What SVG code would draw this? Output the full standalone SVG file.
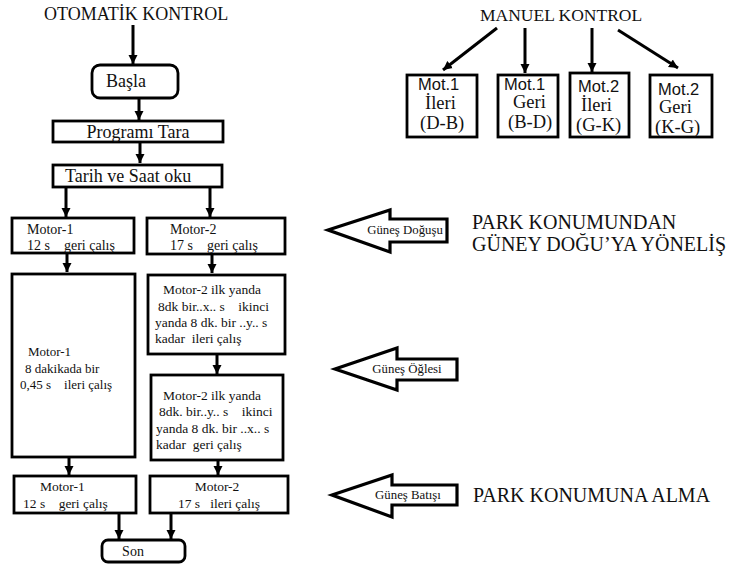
<svg xmlns="http://www.w3.org/2000/svg" width="735" height="568" viewBox="0 0 735 568">
<style>
.box{fill:#fff;stroke:#000;stroke-width:2.8}
.big{fill:#fff;stroke:#000;stroke-width:3.2;stroke-linejoin:miter}
.c{stroke:#000;stroke-width:3;fill:none}
text{white-space:pre}
.s{font-family:'Liberation Serif',serif;fill:#111}
.a{font-family:'Liberation Sans',sans-serif;fill:#111}
.t18{font-size:18px}
.t175{font-size:17.5px}
.t165{font-size:16.5px}
.t185{font-size:18.5px}
.t14{font-size:14px}
.t135{font-size:13.5px}
.t13{font-size:13px}
.t128{font-size:12.8px}
.t20{font-size:20px}
</style>
<defs>
<marker id="ah" viewBox="0 0 10 10" refX="10" refY="5" markerWidth="3" markerHeight="3.3" orient="auto" markerUnits="strokeWidth">
<path d="M0,0 L10,5 L0,10 z" fill="#000"/>
</marker>
</defs>
<rect width="735" height="568" fill="#fff"/>

<text class="s t18" x="44" y="20">OTOMATİK KONTROL</text>
<text class="s t175" x="480" y="21">MANUEL KONTROL</text>

<g id="connectors">
<line class="c" x1="133" y1="25" x2="133" y2="64" marker-end="url(#ah)"/>
<line class="c" x1="139" y1="98" x2="139" y2="120" marker-end="url(#ah)"/>
<line class="c" x1="140" y1="143" x2="140" y2="163" marker-end="url(#ah)"/>
<line class="c" x1="66" y1="187" x2="66" y2="217" marker-end="url(#ah)"/>
<line class="c" x1="210" y1="187" x2="210" y2="217" marker-end="url(#ah)"/>
<line class="c" x1="67" y1="254" x2="67" y2="272" marker-end="url(#ah)"/>
<line class="c" x1="212" y1="254" x2="212" y2="273" marker-end="url(#ah)"/>
<line class="c" x1="217" y1="353" x2="217" y2="374" marker-end="url(#ah)"/>
<line class="c" x1="69" y1="457" x2="69" y2="475" marker-end="url(#ah)"/>
<line class="c" x1="218" y1="460" x2="218" y2="475" marker-end="url(#ah)"/>
<line class="c" x1="119" y1="513" x2="119" y2="539" marker-end="url(#ah)"/>
<line class="c" x1="171" y1="513" x2="171" y2="539" marker-end="url(#ah)"/>
<line class="c" x1="497" y1="28" x2="443" y2="70" marker-end="url(#ah)"/>
<line class="c" x1="525" y1="28" x2="525" y2="73" marker-end="url(#ah)"/>
<line class="c" x1="592" y1="28" x2="592" y2="72" marker-end="url(#ah)"/>
<line class="c" x1="618" y1="30" x2="678" y2="68" stroke-width="2.5" marker-end="url(#ah)"/>
</g>

<g id="basla"><rect class="box" x="92" y="65" width="86" height="33" rx="8"/><text class="s t18" x="106" y="87">Başla</text></g>
<g id="program"><rect class="box" x="53" y="121" width="170" height="21"/><text class="s t18" x="138" y="138" text-anchor="middle">Programı Tara</text></g>
<g id="tarih"><rect class="box" x="53" y="165" width="169" height="22"/><text class="s t18" x="65" y="182">Tarih ve Saat oku</text></g>

<g id="m1a"><rect class="box" x="12" y="218" width="122" height="35"/><text class="s t14"><tspan x="27" y="234">Motor-1</tspan><tspan x="27" y="250">12 s    geri çalış</tspan></text></g>
<g id="m2a"><rect class="box" x="147" y="218" width="138" height="36"/><text class="s t14"><tspan x="170" y="234">Motor-2</tspan><tspan x="170" y="250">17 s    geri çalış</tspan></text></g>

<g id="m1b"><rect class="box" x="12" y="274" width="123" height="183"/><text class="s t13"><tspan x="28" y="356">Motor-1</tspan><tspan x="25" y="373">8 dakikada bir</tspan><tspan x="20" y="389">0,45 s    ileri çalış</tspan></text></g>
<g id="m2b"><rect class="box" x="148" y="275" width="137" height="79"/><text class="s t135"><tspan x="163" y="294">Motor-2 ilk yanda</tspan><tspan x="158" y="311">8dk bir..x.. s    ikinci</tspan><tspan x="155" y="327">yanda 8 dk. bir ..y.. s</tspan><tspan x="155" y="343">kadar  ileri çalış</tspan></text></g>
<g id="m2c"><rect class="box" x="151" y="375" width="132" height="85"/><text class="s t135"><tspan x="163" y="400">Motor-2 ilk yanda</tspan><tspan x="159" y="416">8dk. bir..y.. s    ikinci</tspan><tspan x="156" y="433">yanda 8 dk. bir ..x.. s</tspan><tspan x="156" y="449">kadar  geri çalış</tspan></text></g>

<g id="m1c"><rect class="box" x="14" y="476" width="122" height="37"/><text class="s t135"><tspan x="40" y="491">Motor-1</tspan><tspan x="23" y="508">12 s    geri çalış</tspan></text></g>
<g id="m2d"><rect class="box" x="150" y="476" width="138" height="37"/><text class="s t135" text-anchor="middle"><tspan x="217" y="491">Motor-2</tspan><tspan x="219" y="508">17 s   ileri çalış</tspan></text></g>
<g id="son"><rect class="box" x="102" y="540" width="83" height="22" rx="6"/><text class="s t14" x="133" y="556" text-anchor="middle">Son</text></g>

<g id="man1"><rect class="box" x="407" y="75" width="70" height="62"/><text x="418" y="90" class="a t165">Mot.1</text><text class="s t185"><tspan x="425" y="109">İleri</tspan><tspan x="420" y="129">(D-B)</tspan></text></g>
<g id="man2"><rect class="box" x="498" y="75" width="60" height="62"/><text x="504" y="90" class="a t165">Mot.1</text><text class="s t185"><tspan x="513" y="108">Geri</tspan><tspan x="508" y="128">(B-D)</tspan></text></g>
<g id="man3"><rect class="box" x="570" y="73" width="59" height="64"/><text x="578" y="92" class="a t165">Mot.2</text><text class="s t185"><tspan x="581" y="111">İleri</tspan><tspan x="576" y="131">(G-K)</tspan></text></g>
<g id="man4"><rect class="box" x="650" y="75" width="62" height="62"/><text x="658" y="95" class="a t165">Mot.2</text><text class="s t185"><tspan x="659" y="113">Geri</tspan><tspan x="655" y="133">(K-G)</tspan></text></g>

<g id="dogus"><path class="big" d="M328,230 L390,210 L390,219 L447,219 L447,242 L390,242 L390,252 Z"/><text class="s t128" x="405" y="234" text-anchor="middle">Güneş Doğuşu</text></g>
<g id="ogle"><path class="big" d="M335,369 L397,348 L397,359 L457,359 L457,380 L397,380 L397,390 Z"/><text class="s t128" x="407" y="373" text-anchor="middle">Güneş Öğlesi</text></g>
<g id="batis"><path class="big" d="M332,495 L392,475 L392,485 L457,485 L457,505 L392,505 L392,517 Z"/><text class="s t128" x="408" y="499" text-anchor="middle">Güneş Batışı</text></g>

<text class="s t20" x="472" y="229">PARK KONUMUNDAN</text>
<text class="s t20" x="472" y="251">GÜNEY DOĞU’YA YÖNELİŞ</text>
<text class="s t20" x="473" y="502" font-size="20.5">PARK KONUMUNA ALMA</text>
</svg>
